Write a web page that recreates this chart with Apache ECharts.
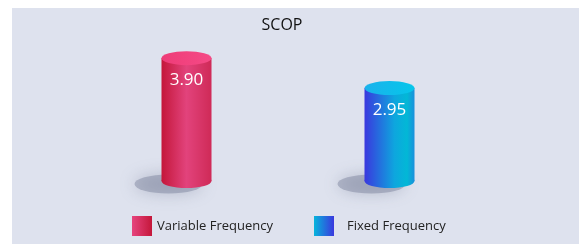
<!DOCTYPE html>
<html>
<head>
<meta charset="utf-8">
<script src="https://cdn.jsdelivr.net/npm/echarts@6/dist/echarts.min.js"></script>
<style>
  html, body { margin: 0; padding: 0; background: #fff; }
  #chart { width: 579px; height: 244px; }
</style>
</head>
<body>
<div id="chart"></div>
<script>
// data
var categories = ['Variable Frequency', 'Fixed Frequency'];
var variableValues = [3.90];
var fixedValues = [2.95];

var LG = echarts.graphic.LinearGradient;

function cylinder (bodyStops, topStops) {
  return function (params, api) {
    var top = api.coord([api.value(0), api.value(1)]);
    var base = api.coord([api.value(0), 0]);
    var w = 50, r = w / 2, sy = 0.28;
    var body = new LG(0, 0, 1, 0, bodyStops);
    return {
      type: 'group',
      children: [
        { // shadow on the floor
          type: 'circle', x: base[0] - 18, y: base[1] + 3, scaleY: 0.28,
          shape: { cx: 0, cy: 0, r: 34 },
          style: { fill: 'rgba(110,118,145,0.4)', shadowBlur: 16, shadowColor: 'rgba(110,118,145,0.9)' }
        },
        {
          type: 'circle', x: top[0], y: base[1], scaleY: sy,
          shape: { cx: 0, cy: 0, r: r },
          style: { fill: body }
        },
        {
          type: 'rect',
          shape: { x: top[0] - r, y: top[1], width: w, height: base[1] - top[1] },
          style: { fill: body }
        },
        {
          type: 'circle', x: top[0], y: top[1], scaleY: sy,
          shape: { cx: 0, cy: 0, r: r },
          style: { fill: new LG(0, 0, 1, 0, topStops) }
        },
        {
          type: 'text', x: top[0], y: top[1] + 22,
          style: {
            text: api.value(1).toFixed(2), fill: '#fff',
            font: '17px "Open Sans"', align: 'center', verticalAlign: 'middle'
          }
        }
      ]
    };
  };
}

var redBody = [
  { offset: 0, color: '#c4173a' },
  { offset: 0.5, color: '#e2437c' },
  { offset: 1, color: '#cf2a57' }
];
var redTop = [
  { offset: 0, color: '#ee3c78' },
  { offset: 1, color: '#f54a86' }
];
var blueBody = [
  { offset: 0, color: '#3a38de' },
  { offset: 0.6, color: '#0ea6de' },
  { offset: 0.85, color: '#02b8d6' },
  { offset: 1, color: '#1a90dc' }
];
var blueTop = [
  { offset: 0, color: '#1ab2ec' },
  { offset: 1, color: '#06c6ea' }
];

var chart = echarts.init(document.getElementById('chart'));
chart.setOption({
  backgroundColor: '#fff',
  animation: false,
  graphic: [{
    type: 'rect', left: 12, top: 8, z: -10,
    shape: { width: 567, height: 236 },
    style: { fill: '#dee2ee' }
  }],
  title: {
    text: 'SCOP', left: 277, top: 12, textAlign: 'center',
    textStyle: { fontFamily: 'Open Sans', fontSize: 16, fontWeight: 'normal', color: '#111' }
  },
  legend: [{
    data: [{ name: categories[0], itemStyle: { color: new LG(0, 0, 1, 0, [{ offset: 0, color: '#e6447e' }, { offset: 1, color: '#c4173a' }]) } }],
    left: 132, top: 216, padding: 0, itemWidth: 20, itemHeight: 20, icon: 'rect',
    textStyle: { fontFamily: 'Open Sans', fontSize: 13, color: '#222' }
  }, {
    data: [{ name: categories[1], itemStyle: { color: new LG(0, 0, 1, 0, [{ offset: 0, color: '#06b4dc' }, { offset: 1, color: '#3a38de' }]) } }],
    left: 314, top: 216, padding: 0, itemWidth: 20, itemHeight: 20, icon: 'rect',
    textStyle: { fontFamily: 'Open Sans', fontSize: 13, color: '#222', padding: [0, 0, 0, 8] }
  }],
  grid: { left: 85, width: 406, top: 55, bottom: 63 },
  xAxis: { type: 'category', data: categories, show: false },
  yAxis: { type: 'value', min: 0, max: 4, show: false },
  series: [{
    name: categories[0], type: 'custom',
    renderItem: cylinder(redBody, redTop),
    data: variableValues.map(function (v) { return [0, v]; })
  }, {
    name: categories[1], type: 'custom',
    renderItem: cylinder(blueBody, blueTop),
    data: fixedValues.map(function (v) { return [1, v]; })
  }]
});
</script>
</body>
</html>
